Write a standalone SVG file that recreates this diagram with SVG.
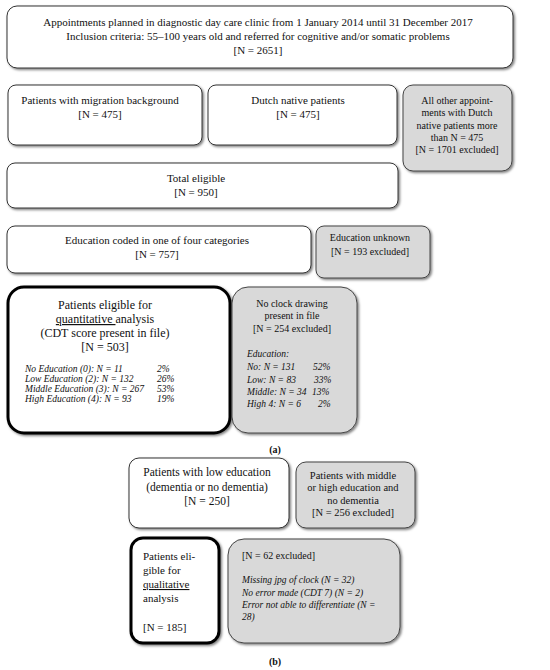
<svg xmlns="http://www.w3.org/2000/svg" width="550" height="670" viewBox="0 0 550 670">
<defs>
<filter id="sh" x="-10%" y="-10%" width="130%" height="130%">
<feDropShadow dx="1.5" dy="1.5" stdDeviation="1" flood-color="#000" flood-opacity="0.5"/>
</filter>
<style>
.w{fill:#fff;stroke:#333;stroke-width:1;filter:url(#sh)}
.g{fill:#d9d9d9;stroke:#444;stroke-width:1;filter:url(#sh)}
.k{fill:#fff;stroke:#000;stroke-width:3;filter:url(#sh)}
text{font-family:"Liberation Serif","Times New Roman",serif;fill:#111}
.t{font-size:11px;text-anchor:middle}
.s{font-size:10px;text-anchor:middle}
.i{font-size:9.5px;font-style:italic}
.l{font-size:11px}
.lab{font-size:10px;text-anchor:middle;font-weight:bold}
</style>
</defs>
<rect width="550" height="670" fill="#fff"/>
<g id="n-top">
<rect class="w" x="7" y="6" width="506" height="62" rx="10"/>
<text class="t" x="258" y="26">Appointments planned in diagnostic day care clinic from 1 January 2014 until 31 December 2017</text>
<text class="t" x="258" y="40">Inclusion criteria: 55–100 years old and referred for cognitive and/or somatic problems</text>
<text class="t" x="258" y="54">[N = 2651]</text>
</g>
<g id="n-migration">
<rect class="w" x="8" y="85" width="194" height="60" rx="8"/>
<text class="t" x="100" y="104">Patients with migration background</text>
<text class="t" x="100" y="118">[N = 475]</text>
</g>
<g id="n-dutch">
<rect class="w" x="208" y="85" width="189" height="60" rx="8"/>
<text class="t" x="298" y="104">Dutch native patients</text>
<text class="t" x="298" y="118">[N = 475]</text>
</g>
<g id="n-other">
<rect class="g" x="403" y="85" width="109" height="86" rx="10"/>
<text class="s" x="457" y="104">All other appoint-</text>
<text class="s" x="457" y="116">ments with Dutch</text>
<text class="s" x="457" y="129">native patients more</text>
<text class="s" x="457" y="141">than N = 475</text>
<text class="s" x="457" y="153">[N = 1701 excluded]</text>
</g>
<g id="n-total">
<rect class="w" x="7" y="163" width="391" height="45" rx="8"/>
<text class="t" x="196" y="182">Total eligible</text>
<text class="t" x="196" y="196">[N = 950]</text>
</g>
<g id="n-educoded">
<rect class="w" x="7" y="226" width="304" height="47" rx="8"/>
<text class="t" x="157" y="244">Education coded in one of four categories</text>
<text class="t" x="157" y="258">[N = 757]</text>
</g>
<g id="n-eduunknown">
<rect class="g" x="316" y="226" width="114" height="52" rx="8"/>
<text class="s" x="370" y="241">Education unknown</text>
<text class="s" x="370" y="255">[N = 193 excluded]</text>
</g>
<g id="n-quant">
<rect class="k" x="8" y="287" width="222" height="146" rx="16"/>
<text class="t" x="105" y="309" style="font-size:12px">Patients eligible for</text>
<text class="t" x="105" y="323" style="font-size:12px"><tspan text-decoration="underline">quantitative </tspan>analysis</text>
<text class="t" x="105" y="337" style="font-size:12px">(CDT score present in file)</text>
<text class="t" x="105" y="351" style="font-size:12px">[N = 503]</text>
<text class="i" x="25" y="372">No Education (0): N = 11</text>
<text class="i" x="157" y="372">2%</text>
<text class="i" x="25" y="382">Low Education (2): N = 132</text>
<text class="i" x="157" y="382">26%</text>
<text class="i" x="25" y="392">Middle Education (3): N = 267</text>
<text class="i" x="157" y="392">53%</text>
<text class="i" x="25" y="402">High Education (4): N = 93</text>
<text class="i" x="157" y="402">19%</text>
</g>
<g id="n-noclock">
<rect class="g" x="232" y="287" width="125" height="146" rx="16"/>
<text class="s" x="292" y="307">No clock drawing</text>
<text class="s" x="292" y="319">present in file</text>
<text class="s" x="292" y="332">[N = 254 excluded]</text>
<text class="i" x="247" y="357">Education:</text>
<text class="i" x="247" y="370">No: N = 131</text>
<text class="i" x="313" y="370">52%</text>
<text class="i" x="247" y="383">Low: N = 83</text>
<text class="i" x="314" y="383">33%</text>
<text class="i" x="247" y="395">Middle: N = 34</text>
<text class="i" x="312" y="395">13%</text>
<text class="i" x="247" y="407">High 4: N = 6</text>
<text class="i" x="318" y="407">2%</text>
</g>
<text class="lab" x="275" y="453">(a)</text>
<g id="n-low">
<rect class="w" x="129" y="458" width="160" height="70" rx="10"/>
<text class="t" x="207" y="476" style="font-size:11.5px">Patients with low education</text>
<text class="t" x="207" y="491" style="font-size:11.5px">(dementia or no dementia)</text>
<text class="t" x="207" y="505" style="font-size:11.5px">[N = 250]</text>
</g>
<g id="n-midhigh">
<rect class="g" x="296" y="462" width="119" height="66" rx="10"/>
<text class="s" x="353" y="479" style="font-size:10.5px">Patients with middle</text>
<text class="s" x="353" y="491" style="font-size:10.5px">or high education and</text>
<text class="s" x="353" y="504" style="font-size:10.5px">no dementia</text>
<text class="s" x="353" y="516" style="font-size:10.5px">[N = 256 excluded]</text>
</g>
<g id="n-qual">
<rect class="k" x="131" y="538" width="88" height="105" rx="12"/>
<text class="l" x="143" y="560">Patients eli-</text>
<text class="l" x="143" y="574">gible for</text>
<text class="l" x="143" y="588" text-decoration="underline">qualitative </text>
<text class="l" x="143" y="602">analysis</text>
<text class="l" x="143" y="631">[N = 185]</text>
</g>
<g id="n-excl62">
<rect class="g" x="228" y="539" width="172" height="104" rx="16"/>
<text class="l" x="242" y="559" style="font-size:10px">[N = 62 excluded]</text>
<text class="i" x="242" y="583">Missing jpg of clock (N = 32)</text>
<text class="i" x="242" y="596">No error made (CDT 7) (N = 2)</text>
<text class="i" x="242" y="608">Error not able to differentiate (N =</text>
<text class="i" x="242" y="620">28)</text>
</g>
<g id="connectors"></g>
<text class="lab" x="275" y="665">(b)</text>
</svg>
